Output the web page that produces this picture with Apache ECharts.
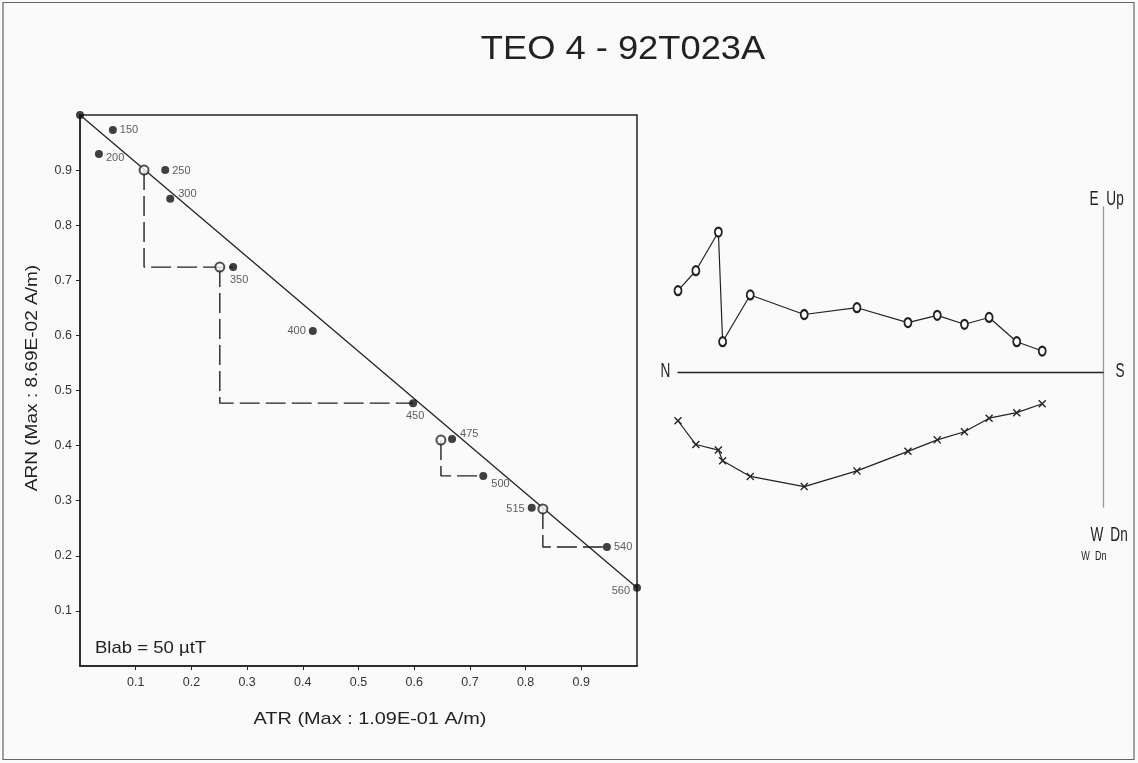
<!DOCTYPE html>
<html>
<head>
<meta charset="utf-8">
<script src="https://cdn.jsdelivr.net/npm/echarts@6/dist/echarts.min.js"></script>
<style>
html,body{margin:0;padding:0;background:#fafafa;}
#chart{width:1138px;height:763px;}
</style>
</head>
<body>
<div id="chart"></div>
<script>
// ---- Arai plot data ----
const araiLabels = ['', '150', '200', '250', '300', '350', '400', '450', '475', '500', '515', '540', '560'];
const araiATR = [0.0, 0.059, 0.034, 0.153, 0.162, 0.275, 0.418, 0.598, 0.668, 0.724, 0.811, 0.946, 1.0];
const araiARN = [1.0, 0.973, 0.929, 0.900, 0.848, 0.724, 0.608, 0.477, 0.412, 0.345, 0.287, 0.216, 0.142];

// pTRM checks (open circles) and the step each check is tied to
const checkATR = [0.115, 0.251, 0.648, 0.831];
const checkARN = [0.900, 0.724, 0.410, 0.285];
const checkTarget = ['350', '450', '500', '540'];

// best-fit line ends
const fitATR = [0.0, 1.0];
const fitARN = [1.0, 0.142];

const axisTicks = [0.1, 0.2, 0.3, 0.4, 0.5, 0.6, 0.7, 0.8, 0.9];

// ---- Zijderveld data (normalised) ----
const zijNorth = [1.0, 0.958, 0.905, 0.895, 0.830, 0.703, 0.579, 0.459, 0.390, 0.326, 0.268, 0.203, 0.143];
const zijEast  = [0.191, 0.238, 0.329, 0.071, 0.181, 0.135, 0.151, 0.116, 0.133, 0.112, 0.128, 0.071, 0.049];
const zijUp    = [-0.115, -0.171, -0.184, -0.209, -0.246, -0.270, -0.233, -0.187, -0.160, -0.141, -0.109, -0.096, -0.075];

// label placement (style only)
const labelPlace = {
  '150': {position: 'right', offset: [0, 0]},
  '200': {position: 'right', offset: [0, 4]},
  '250': {position: 'right', offset: [0, 1]},
  '300': {position: 'right', offset: [1, -5]},
  '350': {position: 'bottom', offset: [6, 0]},
  '400': {position: 'left', offset: [0, 0]},
  '450': {position: 'bottom', offset: [2, 0]},
  '475': {position: 'right', offset: [1, -5]},
  '500': {position: 'right', offset: [1, 8]},
  '515': {position: 'left', offset: [0, 1]},
  '540': {position: 'right', offset: [0, 0]},
  '560': {position: 'left', offset: [0, 3]}
};

const FONT = "'Liberation Sans', Arial, sans-serif";

const araiPoints = araiATR.map((x, i) => {
  const lab = araiLabels[i];
  const d = {value: [x, araiARN[i]], name: lab};
  if (lab) {
    const p = labelPlace[lab];
    d.label = {show: true, formatter: lab, position: p.position, offset: p.offset, distance: 3};
  } else {
    d.label = {show: false};
  }
  return d;
});

const checkLines = checkATR.map((x, i) => {
  const j = araiLabels.indexOf(checkTarget[i]);
  return {
    type: 'line', xAxisIndex: 0, yAxisIndex: 0, silent: true, symbol: 'none', z: 2,
    lineStyle: {color: '#222', width: 1.4, type: [20, 6]},
    data: [[x, checkARN[i]], [x, araiARN[j]], [araiATR[j], araiARN[j]]]
  };
});

const crossPath = 'path://M0,1.2 L1.2,0 L5,3.8 L8.8,0 L10,1.2 L6.2,5 L10,8.8 L8.8,10 L5,6.2 L1.2,10 L0,8.8 L3.8,5 Z';

function txt(x, y, text, size, sx, extra) {
  return Object.assign({
    type: 'text', x: x, y: y, scaleX: sx, silent: true,
    style: {text: text, font: size + 'px ' + FONT, fill: '#222', textAlign: 'center', textVerticalAlign: 'middle'}
  }, extra || {});
}

const chart = echarts.init(document.getElementById('chart'), null, {renderer: 'canvas'});
chart.setOption({
  backgroundColor: '#fafafa',
  animation: false,
  textStyle: {fontFamily: FONT},
  grid: [
    {left: 80, right: 501, top: 115, bottom: 97, show: true, borderColor: '#222', borderWidth: 1.5, backgroundColor: 'transparent'},
    {left: 678, right: 35, top: 207, bottom: 256}
  ],
  xAxis: [
    {
      type: 'value', gridIndex: 0, min: 0, max: 1, interval: 0.1,
      axisLine: {lineStyle: {color: '#222', width: 1.5}},
      axisTick: {show: true, length: 4, lineStyle: {color: '#222'}, customValues: axisTicks},
      axisLabel: {fontSize: 12.5, color: '#333', margin: 10, customValues: axisTicks, formatter: v => v.toFixed(1)},
      splitLine: {show: false}
    },
    {
      type: 'value', gridIndex: 1, min: 0, max: 1, inverse: true,
      axisLine: {onZero: true, lineStyle: {color: '#222', width: 1.3}},
      axisTick: {show: false}, axisLabel: {show: false}, splitLine: {show: false}
    }
  ],
  yAxis: [
    {
      type: 'value', gridIndex: 0, min: 0, max: 1, interval: 0.1,
      axisLine: {lineStyle: {color: '#222', width: 1.5}},
      axisTick: {show: true, length: 4, lineStyle: {color: '#222'}, customValues: axisTicks},
      axisLabel: {fontSize: 12.5, color: '#333', margin: 8, customValues: axisTicks, formatter: v => v.toFixed(1)},
      splitLine: {show: false}
    },
    {
      type: 'value', gridIndex: 1, min: -0.318, max: 0.388,
      axisLine: {onZero: true, lineStyle: {color: '#999', width: 1.3}},
      axisTick: {show: false}, axisLabel: {show: false}, splitLine: {show: false}
    }
  ],
  series: [
    {
      type: 'line', xAxisIndex: 0, yAxisIndex: 0, symbol: 'none', silent: true, z: 2,
      lineStyle: {color: '#222', width: 1.3},
      data: fitATR.map((x, i) => [x, fitARN[i]])
    },
    ...checkLines,
    {
      type: 'scatter', xAxisIndex: 0, yAxisIndex: 0, symbol: 'emptyCircle', symbolSize: 9, z: 4,
      itemStyle: {color: '#222', borderColor: '#222', borderWidth: 1.2},
      data: checkATR.map((x, i) => [x, checkARN[i]])
    },
    {
      type: 'scatter', xAxisIndex: 0, yAxisIndex: 0, symbol: 'circle', symbolSize: 8, z: 5,
      itemStyle: {color: '#111'},
      label: {fontSize: 11, color: '#333', fontFamily: FONT},
      data: araiPoints
    },
    {
      type: 'line', xAxisIndex: 1, yAxisIndex: 1, symbol: 'emptyCircle', symbolSize: [7, 9],
      lineStyle: {color: '#222', width: 1.2}, itemStyle: {color: '#222', borderWidth: 1},
      data: zijNorth.map((x, i) => [x, zijEast[i]])
    },
    {
      type: 'line', xAxisIndex: 1, yAxisIndex: 1, symbol: crossPath, symbolSize: 8,
      lineStyle: {color: '#222', width: 1.2}, itemStyle: {color: '#222'},
      data: zijNorth.map((x, i) => [x, zijUp[i]])
    }
  ],
  graphic: [
    {type: 'rect', shape: {x: 3, y: 2.5, width: 1131, height: 757}, style: {fill: 'none', stroke: '#666', lineWidth: 1.2}, silent: true},
    txt(623, 50, 'TEO 4 - 92T023A', 33, 1.1),
    txt(370, 719, 'ATR (Max : 1.09E-01 A/m)', 17, 1.17),
    txt(32, 378, 'ARN (Max : 8.69E-02 A/m)', 17, 1.12, {rotation: Math.PI / 2}),
    {type: 'text', x: 95, y: 648, scaleX: 1.09, silent: true, style: {text: 'Blab = 50 µtT', font: '17px ' + FONT, fill: '#222', textAlign: 'left', textVerticalAlign: 'middle'}},
    txt(665.5, 371, 'N', 20, 0.68),
    txt(1120, 371, 'S', 20, 0.68),
    txt(1094, 199, 'E', 20, 0.68),
    txt(1115, 199, 'Up', 20, 0.68),
    txt(1097, 535, 'W', 20, 0.68),
    txt(1119, 535, 'Dn', 20, 0.68),
    txt(1094, 556, 'W  Dn', 13, 0.7)
  ]
});
</script>
</body>
</html>
